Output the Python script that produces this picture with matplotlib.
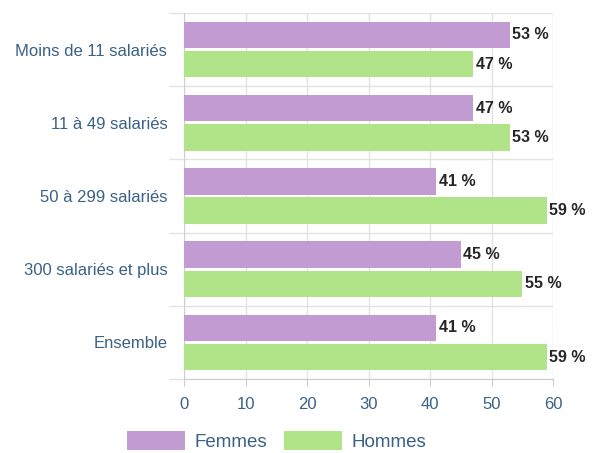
import matplotlib.pyplot as plt
import numpy as np

plt.rcParams['font.family'] = ['Liberation Sans', 'DejaVu Sans']

categories = ['Moins de 11 salariés', '11 à 49 salariés', '50 à 299 salariés',
              '300 salariés et plus', 'Ensemble']
femmes = [53, 47, 41, 45, 41]
hommes = [47, 53, 59, 55, 59]

c_femmes = '#c39bd3'
c_hommes = '#b1e389'
label_col = '#3a6186'
grid_col = '#e2e2e2'

fig = plt.figure(figsize=(5.92, 4.53), dpi=100)
ax = fig.add_axes([184 / 592, 1 - 379 / 453, 369 / 592, 366 / 453])

y = np.arange(len(categories))
h = 0.36
off = 0.2
b1 = ax.barh(y - off, femmes, height=h, color=c_femmes, label='Femmes', zorder=3)
b2 = ax.barh(y + off, hommes, height=h, color=c_hommes, label='Hommes', zorder=3)

for bars, vals in [(b1, femmes), (b2, hommes)]:
    for bar, v in zip(bars, vals):
        ax.text(bar.get_width() + 0.4, bar.get_y() + bar.get_height() / 2,
                f'{v} %', ha='left', va='center', fontsize=11.5,
                fontweight='semibold', color='#262626', zorder=4)

ax.set_xlim(0, 60)
ax.set_ylim(len(categories) - 0.5, -0.5)
ax.set_xticks(np.arange(0, 61, 10))
ax.set_yticks(np.arange(-0.5, len(categories), 1.0))
ax.set_yticklabels([])
ax.set_yticks(y, minor=True)
ax.set_yticklabels(categories, minor=True)

ax.tick_params(axis='y', which='major', length=11, color=grid_col, width=1)
ax.tick_params(axis='y', which='minor', length=0, pad=12,
               labelsize=12, labelcolor=label_col)
ax.tick_params(axis='x', length=5, color='#cccccc', labelsize=12,
               labelcolor=label_col, pad=8)

ax.grid(True, which='major', color=grid_col, linewidth=1, zorder=0)
for s in ['top', 'right']:
    ax.spines[s].set_visible(False)
ax.spines['left'].set_color('#cfcfcf')
ax.spines['bottom'].set_color('#cccccc')

fig.legend(handles=[b1, b2], loc='lower center', bbox_to_anchor=(0.468, -0.032),
           ncol=2, frameon=False, fontsize=13.5, handlelength=3.05, handleheight=1.2,
           columnspacing=0.9, handletextpad=0.55, labelcolor=label_col)

fig.savefig('out.png', dpi=100)
